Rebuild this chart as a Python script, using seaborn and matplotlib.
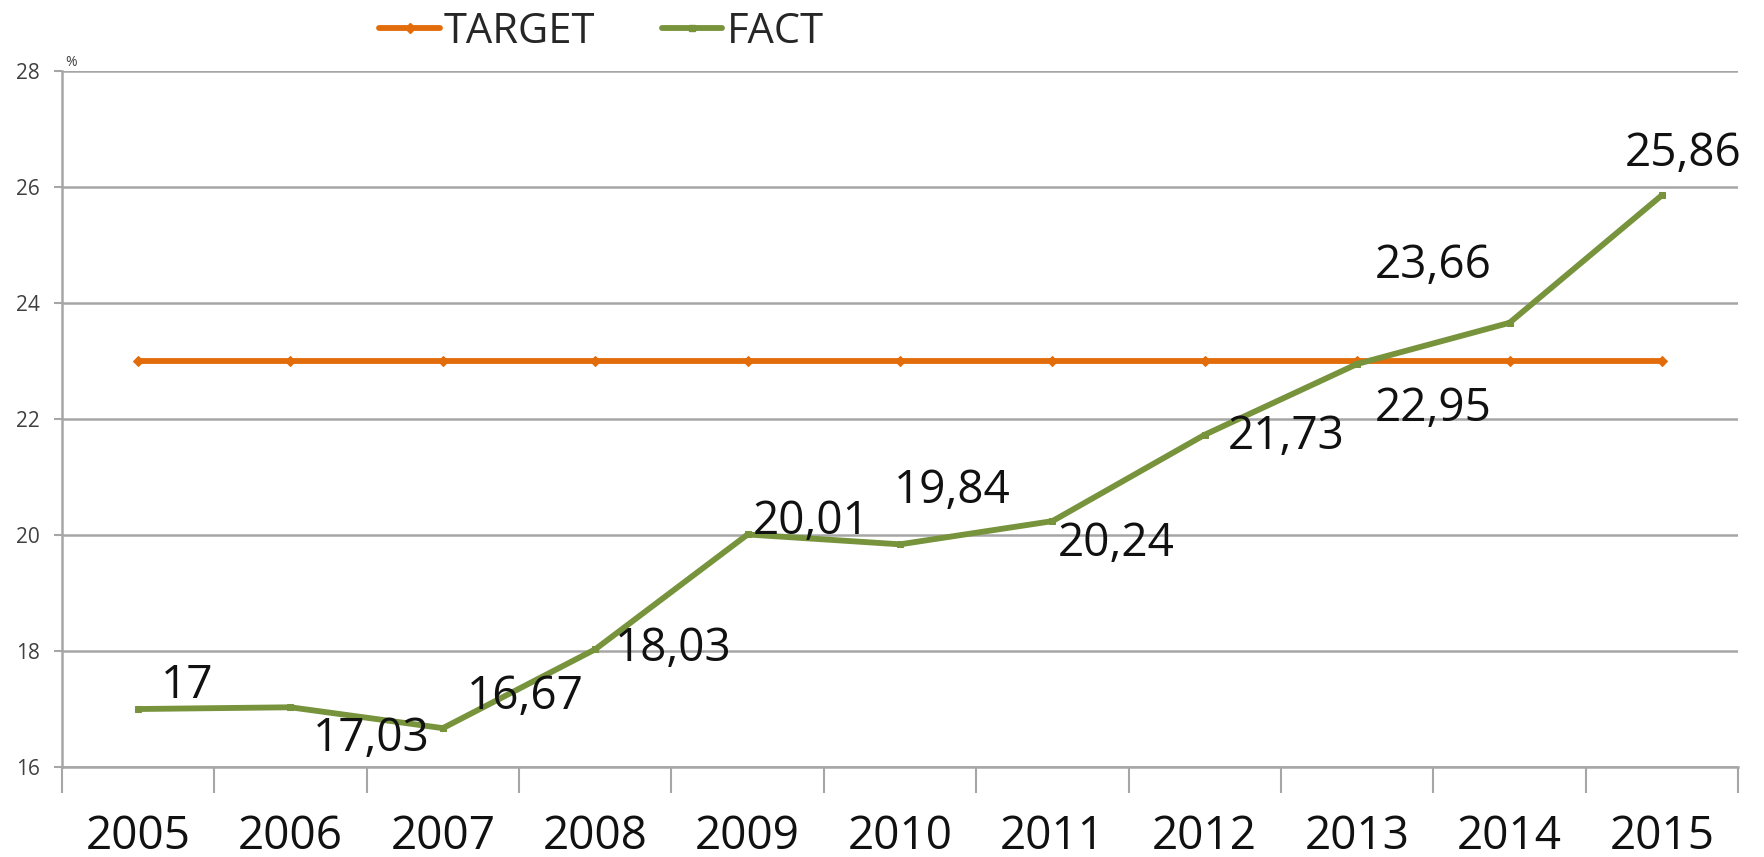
import matplotlib
matplotlib.use("Agg")
import matplotlib.pyplot as plt
from matplotlib.lines import Line2D
import seaborn as sns
import pandas as pd
import numpy as np

# ---- data ----
years = ["2005", "2006", "2007", "2008", "2009", "2010", "2011", "2012", "2013", "2014", "2015"]
target = [23, 23, 23, 23, 23, 23, 23, 23, 23, 23, 23]
fact = [17.00, 17.03, 16.67, 18.03, 20.01, 19.84, 20.24, 21.73, 22.95, 23.66, 25.86]
fact_labels = ["17", "17,03", "16,67", "18,03", "20,01", "19,84", "20,24", "21,73", "22,95", "23,66", "25,86"]
y_ticks = [16, 18, 20, 22, 24, 26, 28]

# label offsets in pixels (style only)
label_offsets = [(49, 23), (81, -32), (82, 31), (78, 0), (64, 12), (52, 53),
                 (64, -23), (81, -2), (76, -45), (-76, 57), (21, 41)]

sns.set_style("white")
plt.rcParams['font.family'] = ['Open Sans', 'DejaVu Sans']

ORANGE = "#E36C0A"
GREEN = "#77933C"
GRID = "#A6A6A6"

fig = plt.figure(figsize=(17.64, 8.57), dpi=100)
ax = fig.add_axes([0.0351, 0.105, 0.9502, 0.812])

x = np.arange(len(years))
df = pd.DataFrame({"x": np.concatenate([x, x]),
                   "value": target + fact,
                   "series": ["TARGET"] * len(years) + ["FACT"] * len(years)})

sns.lineplot(data=df, x="x", y="value", hue="series", style="series",
             palette={"TARGET": ORANGE, "FACT": GREEN},
             markers={"TARGET": "D", "FACT": "s"}, dashes=False,
             markersize=5, linewidth=4.2, ax=ax, legend=False)
for ln in ax.lines:
    ln.set_markeredgecolor(ln.get_color())
    ln.set_markerfacecolor(ln.get_color())

for i, (v, lab, off) in enumerate(zip(fact, fact_labels, label_offsets)):
    ax.annotate(lab, xy=(i, v), xytext=off, textcoords="offset pixels",
                ha="center", va="center", fontsize=33, color="#111111")

ax.set_xlim(-0.5, len(years) - 0.5)
ax.set_ylim(16, 28)
ax.set_yticks(y_ticks)
ax.set_yticklabels([str(t) for t in y_ticks], fontsize=15, color="#404040")
ax.yaxis.grid(True, color=GRID, linewidth=1.8)
ax.set_axisbelow(True)

ax.set_xticks(np.arange(-0.5, len(years), 1.0))
ax.set_xticklabels([])
ax.set_xticks(x, minor=True)
ax.set_xticklabels(years, minor=True, fontsize=33, color="#111111")
ax.tick_params(axis="x", which="major", length=19, width=1.5, color=GRID, direction="out", bottom=True)
ax.tick_params(axis="x", which="minor", length=0, pad=34)
ax.tick_params(axis="y", which="major", length=6, width=1.5, color=GRID, direction="out", left=True, pad=10)

for s in ["top", "right"]:
    ax.spines[s].set_visible(False)
for s in ["left", "bottom"]:
    ax.spines[s].set_color(GRID)
    ax.spines[s].set_linewidth(1.8)

ax.set_xlabel("")
ax.set_ylabel("")
ax.text(0.002, 1.002, "%", transform=ax.transAxes, fontsize=10, color="#404040",
        ha="left", va="bottom")

handles = [Line2D([], [], color=ORANGE, lw=4.2, marker="D", markersize=5),
           Line2D([], [], color=GREEN, lw=4.2, marker="s", markersize=5)]
fig.legend(handles, ["TARGET", "FACT"], loc="center", bbox_to_anchor=(0.341, 0.963),
           ncol=2, frameon=False, fontsize=30, handlelength=1.45, handletextpad=0.1,
           columnspacing=1.6)

fig.savefig("out.png", dpi=100)
